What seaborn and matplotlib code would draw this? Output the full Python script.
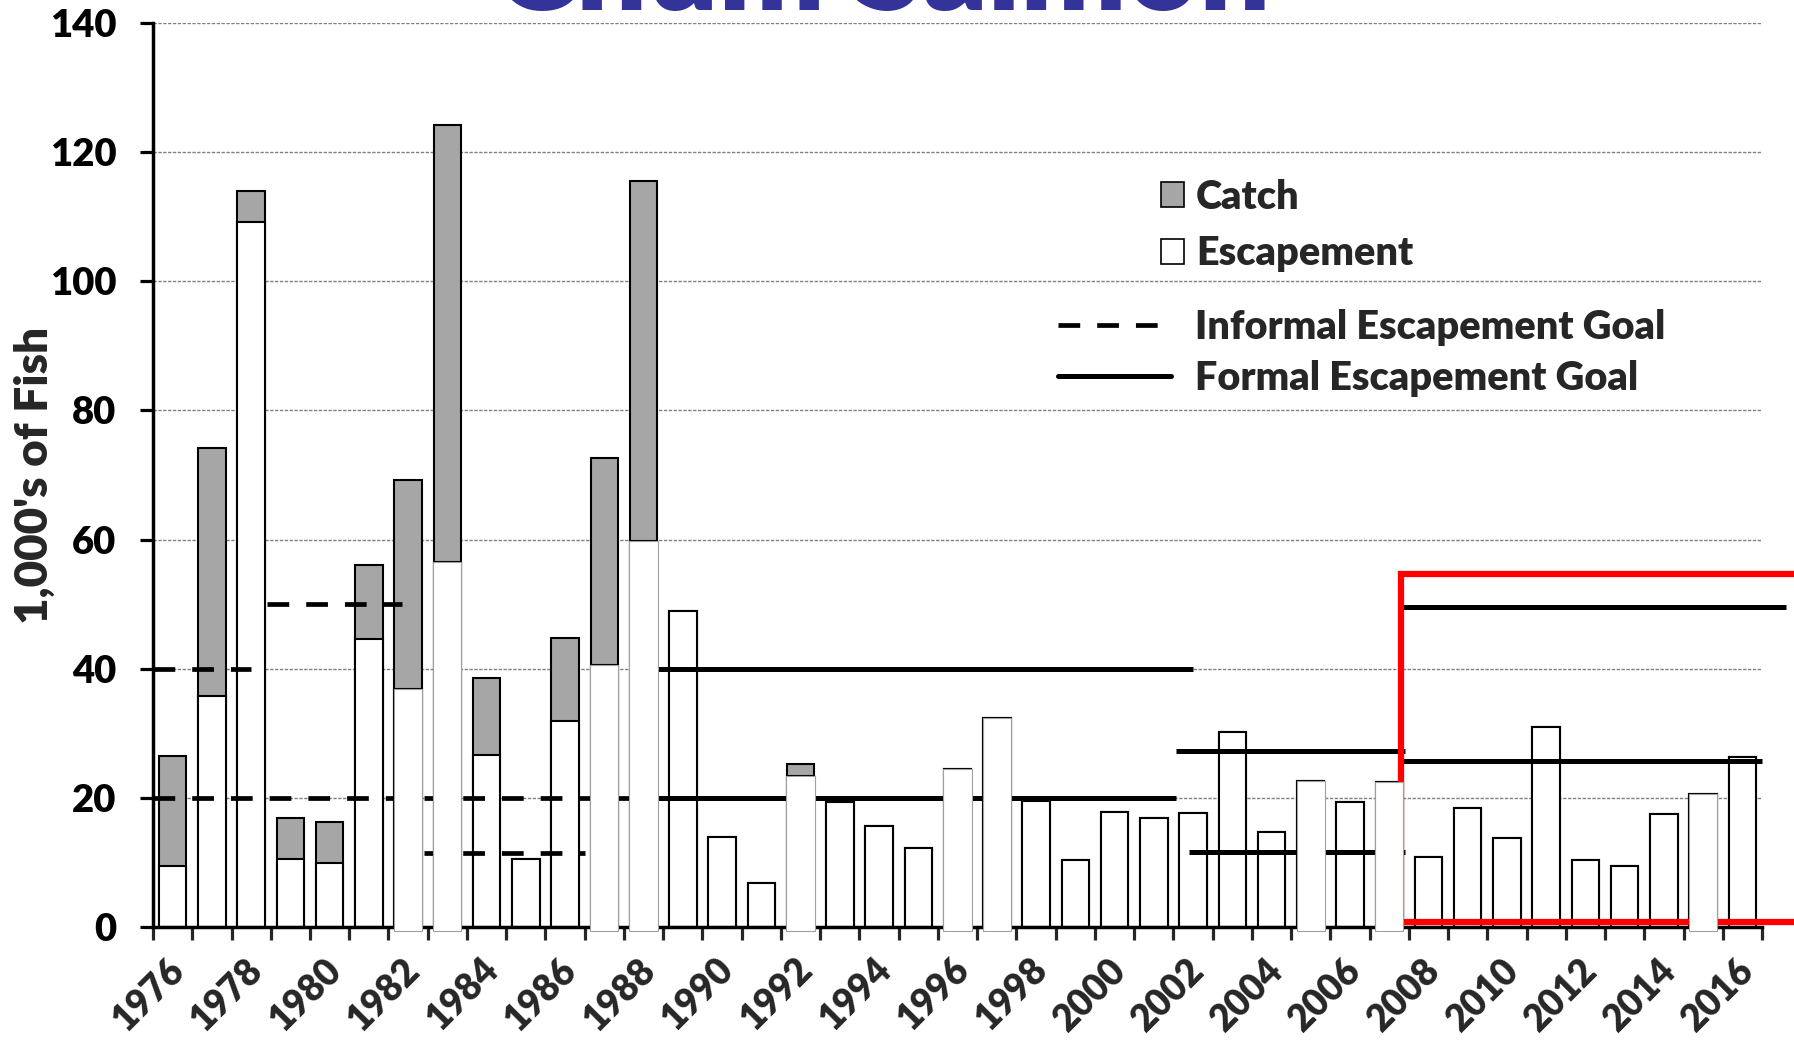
# Chum salmon catch / escapement bar chart with escapement goal lines
import numpy as np
import pandas as pd
import matplotlib
matplotlib.use('Agg')
import matplotlib.pyplot as plt
from matplotlib.patches import Patch
from matplotlib.lines import Line2D
from matplotlib.transforms import ScaledTranslation
import seaborn as sns

# data (1,000's of fish)
years = list(range(1976, 2017))
escapement = [9.4, 35.7, 109.1, 10.5, 9.9, 44.6, 36.8, 56.5, 26.6, 10.5,
              31.9, 40.6, 59.8, 48.9, 14.0, 6.8, 23.4, 19.3, 15.7, 12.2,
              24.5, 32.3, 19.5, 10.3, 17.8, 16.9, 17.6, 30.2, 14.7, 22.6,
              19.4, 22.4, 10.9, 18.5, 13.8, 31.0, 10.4, 9.5, 17.5, 20.6, 26.3]
catch = [17.0, 38.5, 4.8, 6.4, 6.4, 11.5, 32.4, 67.7, 11.9, 0,
         12.9, 32.0, 55.7, 0, 0, 0, 1.9, 0, 0, 0,
         0, 0, 0, 0, 0, 0, 0, 0, 0, 0,
         0, 0, 0, 0, 0, 0, 0, 0, 0, 0, 0]
# escapement boxes that were pasted over the goal lines in the original slide
pasted_years = [1982, 1983, 1987, 1988, 1992, 1996, 1997, 2005, 2007, 2015]

# escapement goals (level, first year, last year)
informal_level = [40, 50, 20, 11.5]
informal_from = [1975.5, 1978.4, 1975.5, 1982.4]
informal_to = [1978.0, 1981.85, 1988.4, 1986.5]
formal_level = [40, 20, 27.3, 11.6, 49.6, 25.7]
formal_from = [1988.37, 1988.37, 2001.57, 2001.9, 2007.34, 2007.34]
formal_to = [2002.0, 2001.57, 2007.4, 2007.4, 2017.1, 2016.5]

# highlighted recent period
box_from = 2007.31
box_low = 0.83
box_high = 54.6

df = pd.DataFrame({'year': [str(y) for y in years],
                   'esc': escapement,
                   'total': np.add(escapement, catch)})

sns.set_style('white')
plt.rcParams['font.family'] = ['Lato', 'DejaVu Sans']
plt.rcParams['font.weight'] = 'heavy'

fig = plt.figure(figsize=(17.94, 10.42), dpi=100)
ax = fig.add_axes([0.0853, 0.1104, 0.8969, 0.8676])

# stacked bars: total (grey catch on top) then escapement in white
sns.barplot(data=df, x='year', y='total', color='#A6A6A6', saturation=1,
            edgecolor='black', linewidth=1.5, width=0.7, errorbar=None, ax=ax, zorder=2)
sns.barplot(data=df, x='year', y='esc', color='white', saturation=1,
            edgecolor='black', linewidth=1.5, width=0.7, errorbar=None, ax=ax, zorder=2.1)

# goal lines
for lvl, a, b in zip(informal_level, informal_from, informal_to):
    ax.plot([a - 1976, b - 1976], [lvl, lvl], color='black', lw=3.4,
            dashes=(4.6, 3.6), solid_capstyle='butt', dash_capstyle='butt', zorder=3)
for lvl, a, b in zip(formal_level, formal_from, formal_to):
    ax.plot([a - 1976, b - 1976], [lvl, lvl], color='black', lw=3.6,
            solid_capstyle='butt', zorder=3, clip_on=False)

# red box around the recent years
bx = box_from - 1976
ax.plot([42, bx, bx, 42], [box_high, box_high, box_low, box_low], color='red',
        lw=4.5, solid_joinstyle='miter', zorder=4, clip_on=False)

# white escapement boxes pasted over the lines
n_before = len(ax.patches)
sns.barplot(data=df[df.year.isin([str(y) for y in pasted_years])], x='year', y='esc',
            order=list(df.year), color='white', saturation=1, edgecolor='#a0a0a0',
            linewidth=0.8, width=0.72, errorbar=None, ax=ax, zorder=5)
for p in ax.patches[n_before:]:
    p.set_y(-0.6)
    p.set_height(p.get_height() + 0.6)
    p.set_clip_on(False)

# axes styling
ax.set_xlim(-0.5, 40.5)
ax.set_ylim(0, 140)
ax.set_yticks(range(0, 141, 20))
ax.yaxis.grid(True, color='#808080', linestyle=(0, (2.4, 1.1)), linewidth=1.0)
ax.xaxis.grid(False)
ax.set_axisbelow(True)
sns.despine(ax=ax)
for s in ['left', 'bottom']:
    ax.spines[s].set_linewidth(2.5)
    ax.spines[s].set_color('black')

ax.tick_params(axis='y', direction='out', length=9.5, width=2.3, pad=17,
               labelsize=27.5, left=True, colors='black')
ax.set_xticks(range(0, 41, 2))
ax.set_xticklabels(years[::2], rotation=45, ha='right', va='center',
                   rotation_mode='anchor')
ax.set_xticks(np.arange(-0.5, 41, 1), minor=True)
ax.tick_params(axis='x', which='major', length=0, pad=27, labelsize=26.5)
ax.tick_params(axis='x', which='minor', length=9, width=2.3, direction='out', bottom=True)
shift = ScaledTranslation(0.06, 0, fig.dpi_scale_trans)
for lab in ax.get_xticklabels():
    lab.set_transform(lab.get_transform() + shift)

ax.set_xlabel('')
ax.set_ylabel("1,000's of Fish", fontsize=33, fontweight='heavy')
ax.yaxis.set_label_coords(-0.061, 0.5)

# legends
leg1 = ax.legend(handles=[Patch(fc='#A6A6A6', ec='black', lw=1.2, label='Catch'),
                          Patch(fc='white', ec='black', lw=1.2, label='Escapement')],
                 loc='center left', bbox_to_anchor=(0.6265, 0.776), frameon=False,
                 prop={'size': 28.5, 'weight': 'heavy'}, handlelength=0.58, handleheight=0.58,
                 handletextpad=0.3, labelspacing=0.5, borderpad=0, borderaxespad=0)
ax.add_artist(leg1)
ax.legend(handles=[Line2D([], [], color='black', lw=3.4, dashes=(4.6, 3.6)),
                   Line2D([], [], color='black', lw=3.6)],
          labels=['Informal Escapement Goal', 'Formal Escapement Goal'],
          loc='center left', bbox_to_anchor=(0.5625, 0.635), frameon=False,
          prop={'size': 28.5, 'weight': 'heavy'}, handlelength=2.85,
          handletextpad=0.6, labelspacing=0.35, borderpad=0, borderaxespad=0)

# title, mostly cut off by the top edge as in the slide
fig.text(0.4917, 0.990, 'Chum Salmon', ha='center', va='baseline', fontsize=90,
         fontweight='heavy', color='#333399')

fig.savefig('out.png', dpi=100)
